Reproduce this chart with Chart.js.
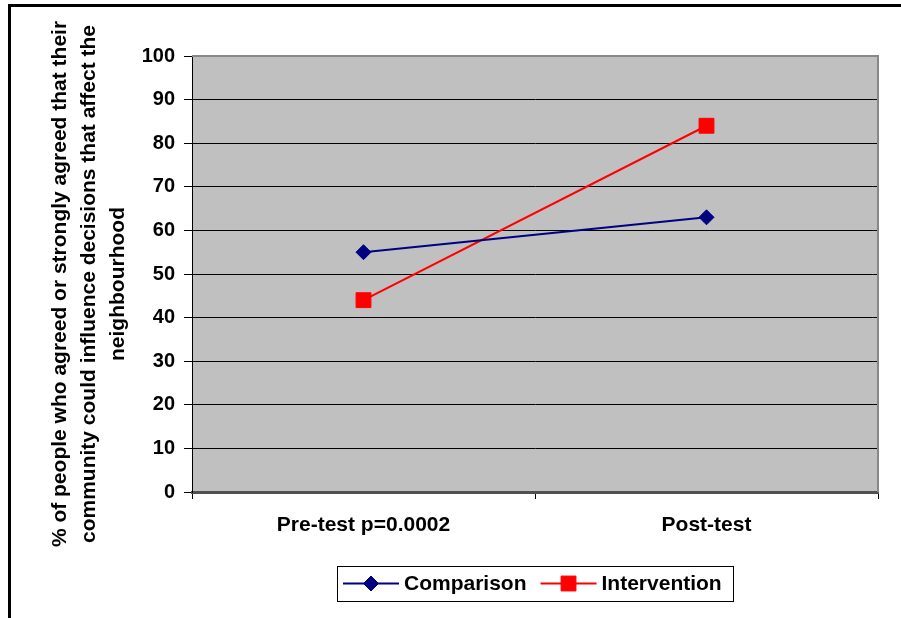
<!DOCTYPE html>
<html>
<head>
<meta charset="utf-8">
<script src="https://cdn.jsdelivr.net/npm/chart.js@4/dist/chart.umd.min.js"></script>
<style>
  html, body { margin: 0; padding: 0; background: #fff; }
  #wrap { width: 901px; height: 618px; position: relative; }
</style>
</head>
<body>
<div id="wrap"><canvas id="myChart" width="901" height="618"></canvas></div>
<script>
const categories = ['Pre-test p=0.0002', 'Post-test'];
const comparison = [55, 63];
const intervention = [44, 84];
const yMin = 0;
const yMax = 100;
const yStep = 10;
const yTitle = [
  '% of people who agreed or strongly agreed that their',
  'community could influence decisions that affect the',
  'neighbourhood',
];

const FONT = 'Arial, "Liberation Sans", sans-serif';

// frame + grey plot background
const backdrop = {
  id: 'backdrop',
  beforeDraw(chart) {
    const { ctx, chartArea: a } = chart;
    ctx.save();
    ctx.fillStyle = '#fff';
    ctx.fillRect(0, 0, chart.width, chart.height);
    ctx.strokeStyle = '#000';
    ctx.lineWidth = 3;
    ctx.strokeRect(9.5, 5.5, 2000, 2000);
    ctx.fillStyle = '#c0c0c0';
    ctx.fillRect(a.left, a.top, a.right - a.left, a.bottom - a.top);
    ctx.restore();
  },
  beforeDatasetsDraw(chart) {
    const { ctx, chartArea: a } = chart;
    ctx.save();
    ctx.strokeStyle = '#888';
    ctx.lineWidth = 2;
    ctx.beginPath();
    ctx.moveTo(a.left, a.top);
    ctx.lineTo(a.right, a.top);
    ctx.lineTo(a.right, a.bottom);
    ctx.stroke();
    ctx.restore();
  },
};

// rotated y title, three lines
const yTitlePlugin = {
  id: 'yTitlePlugin',
  afterDraw(chart) {
    const { ctx } = chart;
    ctx.save();
    ctx.translate(60, 284);
    ctx.rotate(-Math.PI / 2);
    ctx.font = 'bold 21px ' + FONT;
    ctx.fillStyle = '#000';
    ctx.textAlign = 'center';
    ctx.textBaseline = 'middle';
    yTitle.forEach((line, i) => ctx.fillText(line, 0, i * 29));
    ctx.restore();
  },
};

// Excel style legend box
const legendBox = {
  id: 'legendBox',
  afterDraw(chart) {
    const { ctx } = chart;
    const box = { x: 337, y: 566, w: 396, h: 35 };
    const cy = box.y + box.h / 2;
    ctx.save();
    ctx.fillStyle = '#fff';
    ctx.fillRect(box.x, box.y, box.w, box.h);
    ctx.strokeStyle = '#000';
    ctx.lineWidth = 1;
    ctx.strokeRect(box.x + 0.5, box.y + 0.5, box.w, box.h);
    ctx.font = 'bold 21px ' + FONT;
    ctx.textBaseline = 'middle';
    ctx.textAlign = 'left';
    let x = box.x + 6;
    chart.data.datasets.forEach((ds) => {
      ctx.strokeStyle = ds.borderColor;
      ctx.lineWidth = 2;
      ctx.beginPath();
      ctx.moveTo(x, cy);
      ctx.lineTo(x + 56, cy);
      ctx.stroke();
      ctx.fillStyle = ds.pointBackgroundColor;
      ctx.strokeStyle = ds.pointBorderColor;
      ctx.lineWidth = ds.pointBorderWidth;
      Chart.helpers.drawPoint(ctx, {
        pointStyle: ds.pointStyle,
        radius: ds.pointRadius,
        rotation: 0,
        borderWidth: ds.pointBorderWidth,
      }, x + 28, cy);
      ctx.fillStyle = '#000';
      ctx.fillText(ds.label, x + 61, cy + 1);
      x += 61 + ctx.measureText(ds.label).width + 14;
    });
    ctx.restore();
  },
};

const data = {
  labels: categories,
  datasets: [
    {
      label: 'Comparison',
      data: comparison,
      borderColor: '#000080',
      borderWidth: 2,
      pointStyle: 'rectRot',
      pointRadius: 7.5,
      pointBorderWidth: 1,
      pointBackgroundColor: '#000080',
      pointBorderColor: '#000080',
      tension: 0,
    },
    {
      label: 'Intervention',
      data: intervention,
      borderColor: '#ff0000',
      borderWidth: 2,
      pointStyle: 'rect',
      pointRadius: 10.5,
      pointBorderWidth: 1,
      pointBackgroundColor: '#ff0000',
      pointBorderColor: '#ff0000',
      tension: 0,
    },
  ],
};

const config = {
  type: 'line',
  data: data,
  options: {
    responsive: false,
    animation: false,
    layout: { padding: { top: 56, right: 23, bottom: 66, left: 0 } },
    plugins: {
      legend: { display: false },
      tooltip: { enabled: false },
    },
    scales: {
      x: {
        offset: true,
        afterFit: (s) => { s.height = 60; },
        grid: {
          offset: true,
          drawOnChartArea: false,
          drawTicks: true,
          tickLength: 7,
          color: '#000',
        },
        border: { display: true, color: '#505050', width: 3 },
        ticks: {
          padding: 14,
          color: '#000',
          maxRotation: 0,
          font: { family: FONT, size: 21, weight: 'bold' },
        },
      },
      y: {
        min: yMin,
        max: yMax,
        afterFit: (s) => { s.width = 192; },
        grid: {
          color: '#000',
          lineWidth: 1,
          tickLength: 8,
        },
        border: { display: true, color: '#000', width: 1 },
        ticks: {
          stepSize: yStep,
          padding: 9,
          color: '#000',
          font: { family: FONT, size: 20, weight: 'bold' },
        },
      },
    },
  },
  plugins: [backdrop, yTitlePlugin, legendBox],
};

const myChart = new Chart(document.getElementById('myChart'), config);
</script>
</body>
</html>
